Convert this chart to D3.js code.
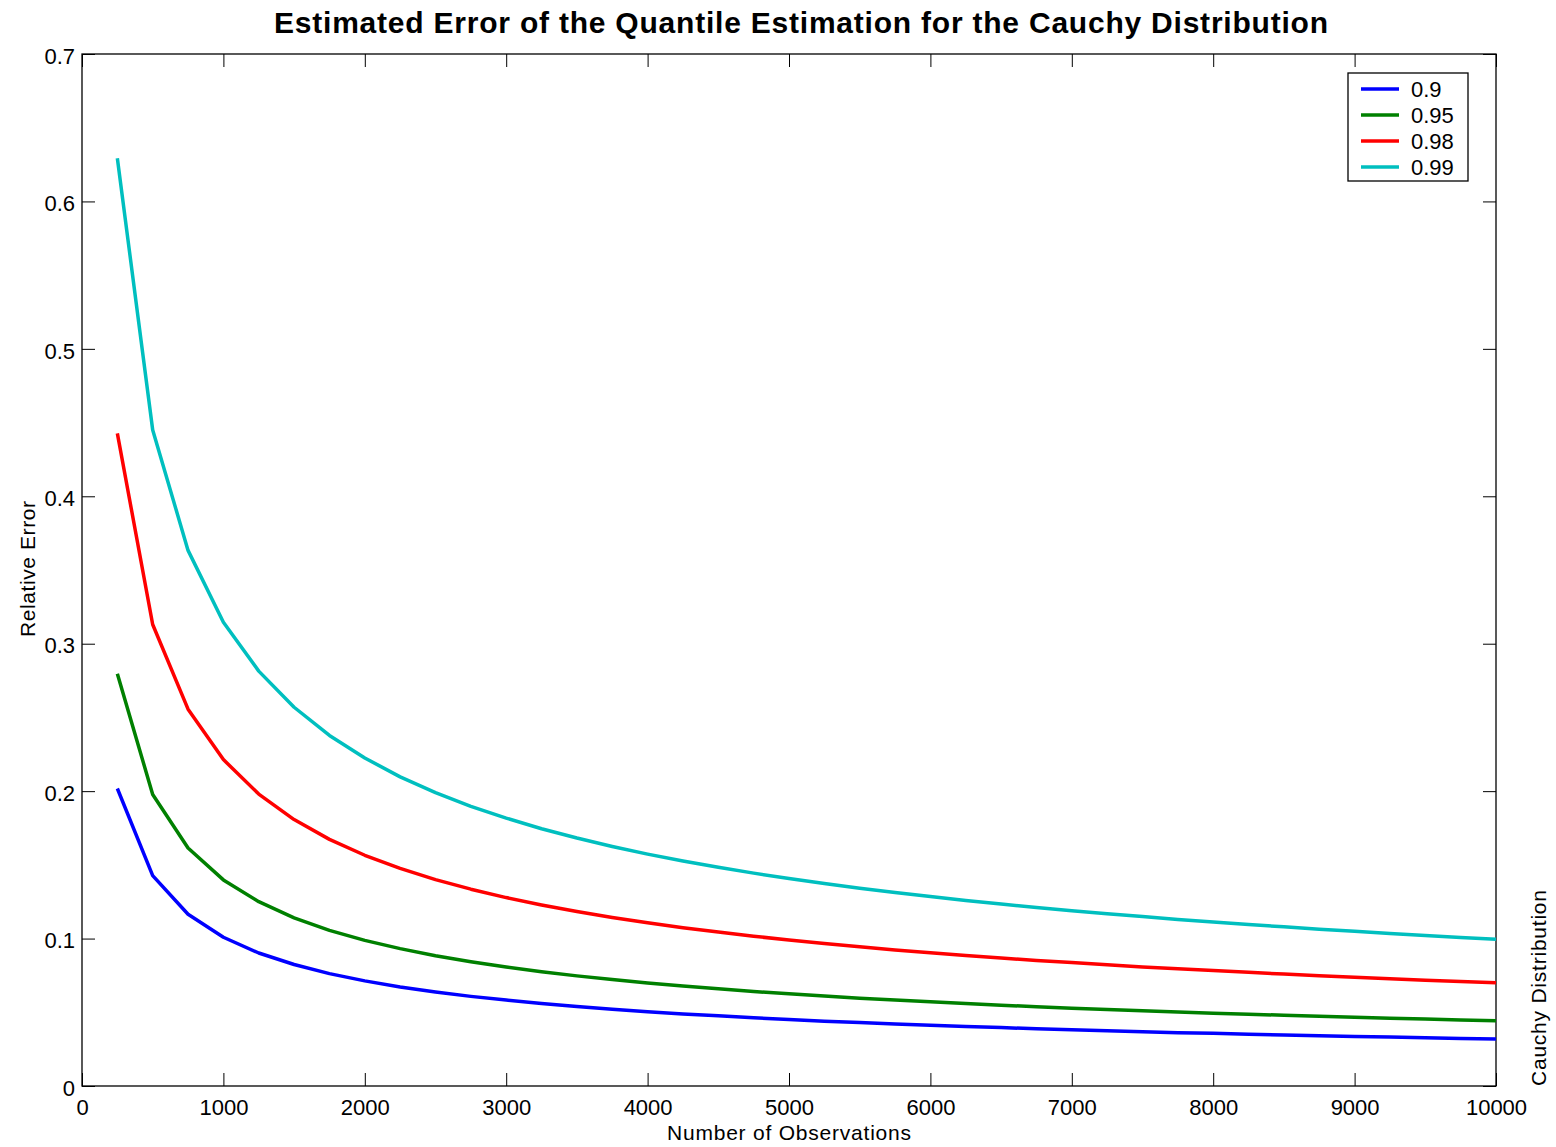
<!DOCTYPE html>
<meta charset="utf-8">
<style>
body { margin: 0; background: #fff; }
text { font-family: "Liberation Sans", Arial, sans-serif; fill: #000; }
.tick line { stroke: #000; }
</style>
<body>
<script src="https://d3js.org/d3.v7.min.js"></script>
<div id="chart"></div>
<script>

var obs = [250,500,750,1000,1250,1500,1750,2000,2250,2500,2750,3000,3250,3500,3750,4000,4250,4500,4750,5000,
           5250,5500,5750,6000,6250,6500,6750,7000,7250,7500,7750,8000,8250,8500,8750,9000,9250,9500,9750,10000];

var q90 = [0.2018,0.1427,0.1165,0.1009,0.0902,0.0824,0.0762,0.0713,0.0672,0.0638,0.0608,0.0583,0.0560,0.0539,0.0521,0.0504,0.0489,0.0476,0.0463,0.0451,
           0.0440,0.0430,0.0421,0.0412,0.0404,0.0396,0.0388,0.0381,0.0375,0.0368,0.0362,0.0357,0.0351,0.0346,0.0341,0.0336,0.0332,0.0327,0.0323,0.0319];
var q95 = [0.2796,0.1977,0.1614,0.1398,0.1250,0.1141,0.1056,0.0988,0.0932,0.0884,0.0843,0.0807,0.0775,0.0747,0.0722,0.0699,0.0678,0.0659,0.0641,0.0625,
           0.0610,0.0596,0.0583,0.0571,0.0559,0.0548,0.0538,0.0528,0.0519,0.0511,0.0502,0.0494,0.0487,0.0480,0.0473,0.0466,0.0460,0.0454,0.0448,0.0442];
var q98 = [0.4427,0.3130,0.2556,0.2214,0.1980,0.1807,0.1673,0.1565,0.1476,0.1400,0.1335,0.1278,0.1228,0.1183,0.1143,0.1107,0.1074,0.1044,0.1016,0.0990,
           0.0966,0.0944,0.0923,0.0904,0.0885,0.0868,0.0852,0.0837,0.0822,0.0808,0.0795,0.0783,0.0771,0.0759,0.0748,0.0738,0.0728,0.0718,0.0709,0.0700];
var q99 = [0.6293,0.4450,0.3633,0.3146,0.2814,0.2569,0.2378,0.2225,0.2097,0.1990,0.1897,0.1817,0.1745,0.1682,0.1625,0.1573,0.1526,0.1484,0.1444,0.1407,
           0.1373,0.1341,0.1312,0.1285,0.1259,0.1234,0.1211,0.1189,0.1168,0.1149,0.1130,0.1112,0.1095,0.1080,0.1064,0.1049,0.1035,0.1021,0.1008,0.0995];

var seriesNames = ["0.9","0.95","0.98","0.99"];
var seriesVals = [q90, q95, q98, q99];
var colors = ["#0000ff","#008000","#ff0000","#00bfbf"];

var xTicks = [0,1000,2000,3000,4000,5000,6000,7000,8000,9000,10000];
var yTicks = [0,0.1,0.2,0.3,0.4,0.5,0.6,0.7];

var width = 1556, height = 1147;
var margin = {top: 54, right: 60, bottom: 61, left: 82};
var w = width - margin.left - margin.right,
    h = height - margin.top - margin.bottom;

var svg = d3.select("#chart").append("svg")
    .attr("width", width)
    .attr("height", height);

var g = svg.append("g")
    .attr("transform", "translate(" + margin.left + "," + margin.top + ")");

var x = d3.scaleLinear().domain([0, 10000]).range([0, w]);
var y = d3.scaleLinear().domain([0, 0.7]).range([h, 0]);

// frame
g.append("rect")
    .attr("width", w).attr("height", h)
    .attr("fill", "none").attr("stroke", "#000").attr("stroke-width", 1.3);

var tl = 13;
// bottom axis, ticks inside
var xb = g.append("g").attr("transform", "translate(0," + h + ")")
    .call(d3.axisBottom(x).tickValues(xTicks).tickSizeInner(-tl).tickSizeOuter(0).tickPadding(13).tickFormat(d3.format("d")));
// top ticks
var xt = g.append("g")
    .call(d3.axisTop(x).tickValues(xTicks).tickSizeInner(-tl).tickSizeOuter(0).tickFormat(""));
// left axis
var yl = g.append("g")
    .call(d3.axisLeft(y).tickValues(yTicks).tickSizeInner(-tl).tickSizeOuter(0).tickPadding(7).tickFormat(function(d) { return d === 0 ? "0" : d3.format(".1f")(d); }));
var yr = g.append("g").attr("transform", "translate(" + w + ",0)")
    .call(d3.axisRight(y).tickValues(yTicks).tickSizeInner(-tl).tickSizeOuter(0).tickFormat(""));

[xb, xt, yl, yr].forEach(function(a) {
  a.select(".domain").remove();
  a.selectAll("text").style("font-size", "22px").attr("fill", "#000");
});
yl.selectAll(".tick text").attr("dy", "0.42em");
xb.selectAll(".tick text").attr("dy", "0.71em");

// lines
var line = d3.line()
    .x(function(d, i) { return x(obs[i]); })
    .y(function(d) { return y(d); });

seriesVals.forEach(function(vals, i) {
  g.append("path")
    .datum(vals)
    .attr("fill", "none")
    .attr("stroke", colors[i])
    .attr("stroke-width", 3.5)
    .attr("stroke-linejoin", "round")
    .attr("d", line);
});

// title
svg.append("text")
    .attr("x", 801).attr("y", 33)
    .attr("text-anchor", "middle")
    .attr("textLength", 1054).attr("lengthAdjust", "spacing")
    .style("font-size", "30px").style("font-weight", "bold")
    .text("Estimated Error of the Quantile Estimation for the Cauchy Distribution");

// axis labels
svg.append("text")
    .attr("x", margin.left + w / 2).attr("y", 1140)
    .attr("text-anchor", "middle")
    .attr("textLength", 244).attr("lengthAdjust", "spacing")
    .style("font-size", "21px")
    .text("Number of Observations");

svg.append("text")
    .attr("transform", "translate(35," + 569 + ") rotate(-90)")
    .attr("text-anchor", "middle")
    .attr("textLength", 136).attr("lengthAdjust", "spacing")
    .style("font-size", "21px")
    .text("Relative Error");

svg.append("text")
    .attr("transform", "translate(1546,1086) rotate(-90)")
    .attr("text-anchor", "start")
    .attr("textLength", 196).attr("lengthAdjust", "spacing")
    .style("font-size", "21px")
    .text("Cauchy Distribution");

// legend
var lg = svg.append("g").attr("transform", "translate(1348,73)");
lg.append("rect").attr("width", 120).attr("height", 108)
    .attr("fill", "#fff").attr("stroke", "#000").attr("stroke-width", 1.3);
seriesNames.forEach(function(name, i) {
  var yy = 16 + i * 26;
  lg.append("line").attr("x1", 13).attr("x2", 51).attr("y1", yy).attr("y2", yy)
    .attr("stroke", colors[i]).attr("stroke-width", 3.5);
  lg.append("text").attr("x", 63).attr("y", yy + 8)
    .style("font-size", "22px").text(name);
});

</script>
</body>
</html>
